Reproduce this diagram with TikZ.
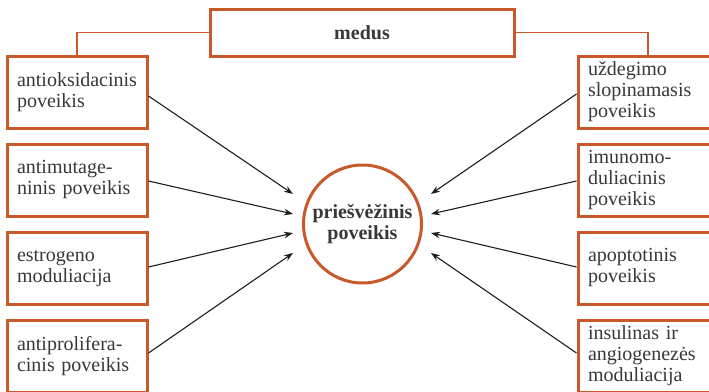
\documentclass[tikz,border=0pt]{standalone}
\usepackage{fontspec}
\setmainfont{Liberation Serif}
\usetikzlibrary{arrows.meta}
\definecolor{boxorange}{HTML}{C8592A}
\definecolor{txtgray}{HTML}{383838}
\definecolor{arrowblack}{HTML}{1E1E1E}
\begin{document}
\begin{tikzpicture}[x=1pt,y=-1pt,
  effbox/.style={draw=boxorange, line width=3pt, rectangle, text width=120pt, inner xsep=10pt, inner ysep=0pt,
    minimum height=72pt, align=left, text=txtgray, font=\fontsize{20}{21}\selectfont},
  topbox/.style={draw=boxorange, line width=3pt, rectangle, minimum width=304pt, minimum height=47pt,
    text=txtgray, font=\fontsize{20}{21}\selectfont\bfseries},
  hubnode/.style={draw=boxorange, line width=3pt, circle, minimum size=118pt, inner sep=0pt, align=center,
    text=txtgray, font=\fontsize{20}{21}\selectfont\bfseries},
  link/.style={draw=boxorange, line width=1.5pt},
  effarrow/.style={draw=arrowblack, line width=1.1pt, -{Stealth[length=9pt,width=6.5pt]}}
]
\useasboundingbox (0,0) rectangle (709,391);
\clip (0,0) rectangle (709,391);
\fill[white] (0,0) rectangle (709,391);

\node[topbox] (medus) at (362,32.5) {medus};
\node[hubnode] (hub) at (362.5,224) {priešvėžinis\\poveikis};

\node[effbox] (L1) at (77,92) {antioksidacinis\\poveikis};
\node[effbox] (L2) at (77,180) {antimutage-\\ninis poveikis};
\node[effbox] (L3) at (77,268) {estrogeno\\moduliacija};
\node[effbox] (L4) at (77,356) {antiprolifera-\\cinis poveikis};

\node[effbox] (R1) at (648,92) {uždegimo\\slopinamasis\\poveikis};
\node[effbox] (R2) at (648,180) {imunomo-\\duliacinis\\poveikis};
\node[effbox] (R3) at (648,268) {apoptotinis\\poveikis};
\node[effbox] (R4) at (648,356) {insulinas ir\\angiogenezės\\moduliacija};

\draw[link] (medus.west) -| (L1.north);
\draw[link] (medus.east) -| (R1.north);

\coordinate (hl1) at (293,194);
\coordinate (hl2) at (293,214);
\coordinate (hl3) at (293,233);
\coordinate (hl4) at (293,253);
\coordinate (hr1) at (431,194);
\coordinate (hr2) at (431,214);
\coordinate (hr3) at (431,233);
\coordinate (hr4) at (431,253);

\draw[effarrow] ([yshift=-4pt]L1.east) -- (hl1);
\draw[effarrow] ([yshift=-1pt]L2.east) -- (hl2);
\draw[effarrow] ([yshift=1pt]L3.east) -- (hl3);
\draw[effarrow] ([yshift=3pt]L4.east) -- (hl4);
\draw[effarrow] ([yshift=-2pt]R1.west) -- (hr1);
\draw[effarrow] ([yshift=-1pt]R2.west) -- (hr2);
\draw[effarrow] ([yshift=1pt]R3.west) -- (hr3);
\draw[effarrow] ([yshift=3pt]R4.west) -- (hr4);
\end{tikzpicture}
\end{document}
